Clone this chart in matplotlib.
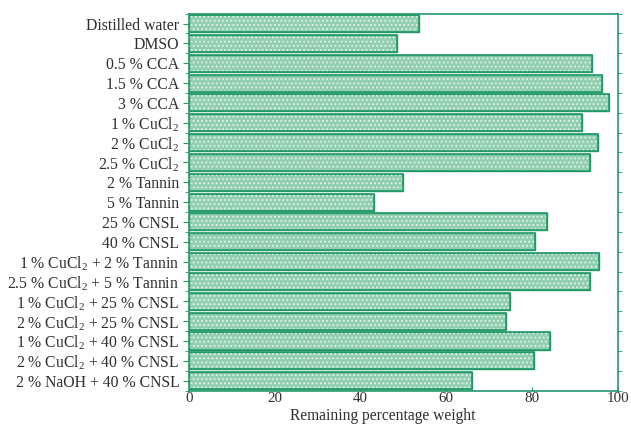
import matplotlib
matplotlib.use("Agg")
import matplotlib.pyplot as plt
import numpy as np

categories = [
    "Distilled water", "DMSO", "0.5 % CCA", "1.5 % CCA", "3 % CCA",
    "1 % CuCl$_2$", "2 % CuCl$_2$", "2.5 % CuCl$_2$", "2 % Tannin", "5 % Tannin",
    "25 % CNSL", "40 % CNSL", "1 % CuCl$_2$ + 2 % Tannin", "2.5 % CuCl$_2$ + 5 % Tannin",
    "1 % CuCl$_2$ + 25 % CNSL", "2 % CuCl$_2$ + 25 % CNSL", "1 % CuCl$_2$ + 40 % CNSL",
    "2 % CuCl$_2$ + 40 % CNSL", "2 % NaOH + 40 % CNSL",
]
values = [53.6, 48.4, 94.0, 96.4, 98.0, 91.6, 95.4, 93.5, 49.9, 43.2,
          83.6, 80.7, 95.6, 93.6, 74.9, 74.0, 84.1, 80.4, 66.0]
xticks = [0, 20, 40, 60, 80, 100]

plt.rcParams['font.family'] = ['Liberation Serif', 'DejaVu Serif']
plt.rcParams['mathtext.fontset'] = 'custom'
plt.rcParams['mathtext.rm'] = 'Liberation Serif'
plt.rcParams['mathtext.it'] = 'Liberation Serif'
plt.rcParams['hatch.linewidth'] = 0.8

green = '#23996a'
fill = '#92ceb0'
text_c = '#2e2e2e'
fs = 11.3

fig = plt.figure(figsize=(6.31, 4.25), dpi=100)
ax = fig.add_axes([0.2995, 0.081, 0.6795, 0.887])

y = np.arange(len(categories))
h = 0.86
ax.barh(y, values, height=h, color=fill, edgecolor=green, linewidth=1.0, zorder=2)
ax.barh(y, values, height=h, color='none', edgecolor='#e6f4ec', linewidth=0, hatch='....', zorder=3)
ax.barh(y, values, height=h, color='none', edgecolor=green, linewidth=1.2, zorder=4)

ax.set_xlim(0, 100)
ax.set_ylim(len(categories) - 1 + h / 2 + 0.02, -h / 2 - 0.02)
ax.set_yticks(y)
ax.set_yticklabels(categories, fontsize=fs, color=text_c)
ax.set_yticks(np.arange(len(categories) + 1) - 0.5, minor=True)
ax.set_xticks(xticks)
ax.set_xticklabels([str(t) for t in xticks], fontsize=10.8, color=text_c)
ax.set_xlabel("Remaining percentage weight", fontsize=11.2, color=text_c)
ax.xaxis.set_label_coords(0.453, -0.046)

for s in ax.spines.values():
    s.set_color(green)
    s.set_linewidth(1.2)
ax.tick_params(axis='y', which='major', length=4, color=green, pad=3)
ax.tick_params(axis='y', which='minor', length=3, color=green, right=True, direction='out')
ax.tick_params(axis='x', which='major', length=3, color=green, direction='in', pad=1)

fig.savefig("out.png", dpi=100)
